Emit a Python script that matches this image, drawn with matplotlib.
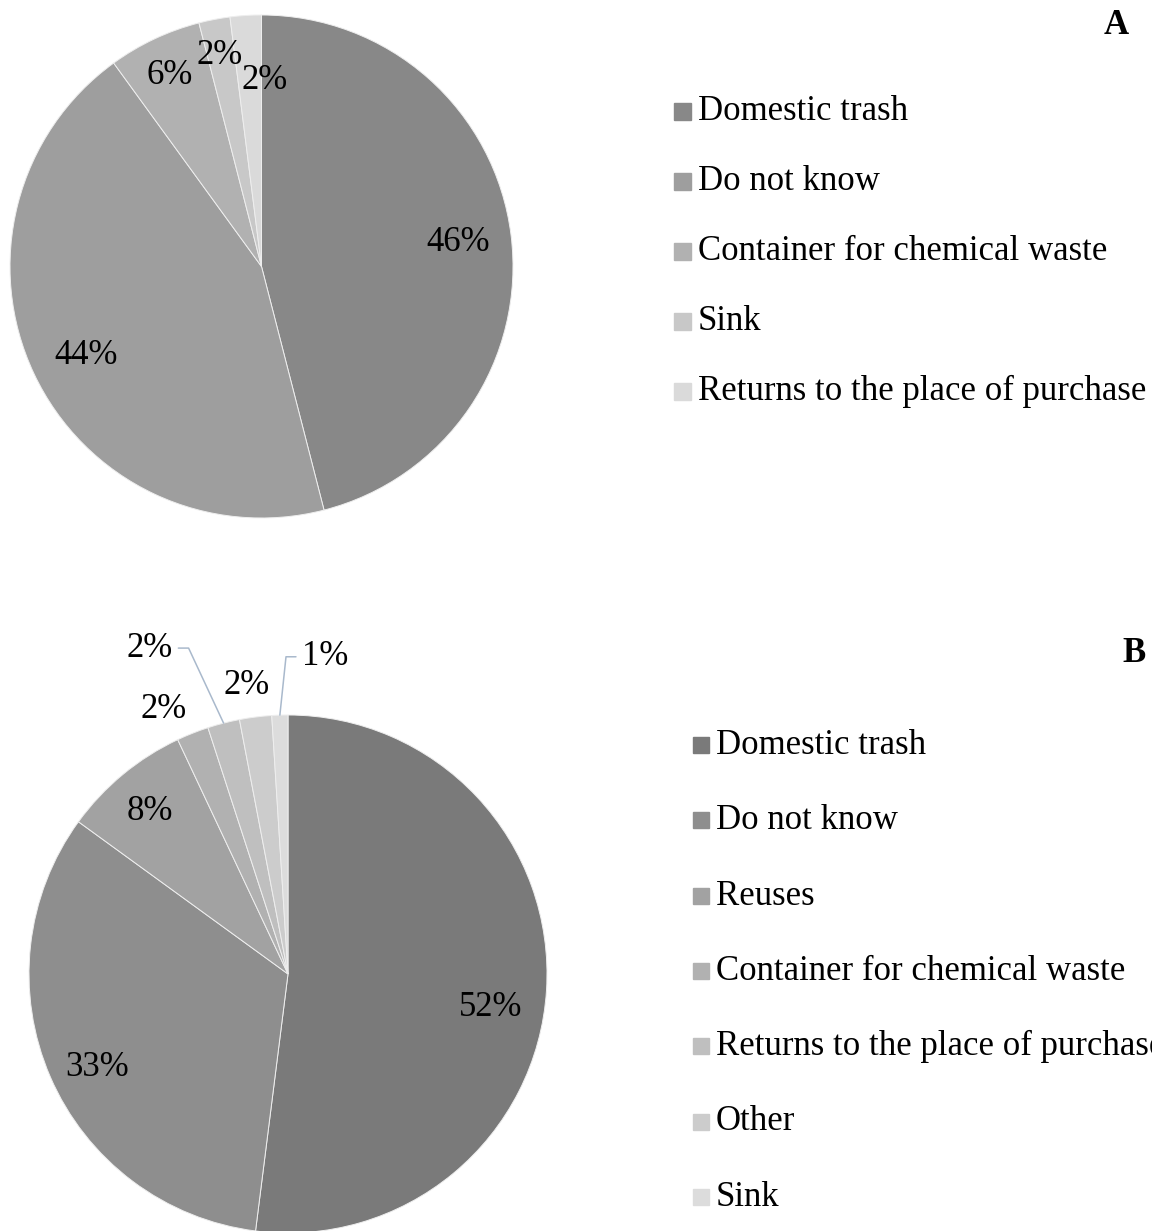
"""Two pie charts (A and B): how respondents dispose of products."""

import matplotlib
matplotlib.use("Agg")
import matplotlib.pyplot as plt
import matplotlib.transforms as mtransforms
import numpy as np
from matplotlib.patches import Rectangle

plt.rcParams.update({
    "font.family": ["Liberation Serif", "DejaVu Serif"],
    "font.size": 25,
})

# ---- data -------------------------------------------------------------
labels_a = ["Domestic trash", "Do not know", "Container for chemical waste",
            "Sink", "Returns to the place of purchase"]
values_a = [46, 44, 6, 2, 2]
colors_a = ["#888888", "#9e9e9e", "#b1b1b1", "#c8c8c8", "#dadada"]

labels_b = ["Domestic trash", "Do not know", "Reuses",
            "Container for chemical waste", "Returns to the place of purchase",
            "Other", "Sink"]
values_b = [52, 33, 8, 2, 2, 2, 1]
colors_b = ["#7a7a7a", "#8e8e8e", "#a2a2a2", "#b1b1b1", "#bfbfbf",
            "#cccccc", "#dcdcdc"]

# label placement: (radius, angular shift in degrees from wedge middle)
lab_a = [(0.79, 0.5), (0.775, 1.0), (0.854, 0.2), (0.865, 0.2), (0.752, -4.5)]
lab_b = [(0.79, -5.0), (0.816, 2.0), (0.831, 0.2), (1.14, 3.4),
         (1.367, 8.6), (1.135, 0.9), (1.233, -8.4)]
leader_b = {4: ("right", 115), 6: ("left", 84)}

W, H = 1152, 1231
fig = plt.figure(figsize=(W / 100, H / 100), dpi=100)


def pie_axes(cx, cy, r):
    return fig.add_axes([(cx - r) / W, (H - cy - r) / H, 2 * r / W, 2 * r / H])


def draw_pie(ax, values, colors, lab_pos, leaders=None):
    leaders = leaders or {}
    wedges, _ = ax.pie(values, colors=colors, startangle=90, counterclock=False,
                       radius=1.0,
                       wedgeprops={"edgecolor": "#eeeeee", "linewidth": 0.7})
    # Excel-like labels sit a touch lower than matplotlib's centring
    shifted = mtransforms.offset_copy(ax.transData, fig=fig, x=0, y=-3,
                                      units="dots")
    for i, (w, v) in enumerate(zip(wedges, values)):
        mid = (w.theta1 + w.theta2) / 2
        r, shift = lab_pos[i]
        ang = np.deg2rad(mid + shift)
        tx, ty = r * np.cos(ang), r * np.sin(ang)
        if i in leaders:
            side, angle_b = leaders[i]
            m = np.deg2rad(mid)
            ax.annotate(f"{v}%", xy=(np.cos(m), np.sin(m)), xytext=(tx, ty),
                        ha="center", va="center", fontsize=25,
                        annotation_clip=False,
                        arrowprops=dict(
                            arrowstyle="-", color="#a9b9cc", lw=1.1,
                            shrinkB=0,
                            relpos=(1, 0.5) if side == "right" else (0, 0.5),
                            connectionstyle=f"angle,angleA=0,angleB={angle_b},rad=0"))
        else:
            ax.text(tx, ty, f"{v}%", ha="center", va="center", fontsize=25,
                    transform=shifted)
    ax.set_xlim(-1, 1)
    ax.set_ylim(-1, 1)
    ax.axis("off")
    return wedges


ax_a = pie_axes(261.5, 266.5, 251.5)
draw_pie(ax_a, values_a, colors_a, lab_a)

ax_b = pie_axes(288, 974, 259)
draw_pie(ax_b, values_b, colors_b, lab_b, leader_b)

# ---- legends (pixel-space overlay) -----------------------------------
ov = fig.add_axes([0, 0, 1, 1], zorder=-1)
ov.set_xlim(0, W)
ov.set_ylim(H, 0)
ov.axis("off")


def draw_legend(labels, colors, x0, y0, dy, size):
    for i, (lab, col) in enumerate(zip(labels, colors)):
        yc = y0 + i * dy
        ov.add_patch(Rectangle((x0, yc - size / 2), size, size, color=col))
        ov.text(x0 + size + 7, yc + size / 2 + 1, lab, ha="left",
                va="baseline", fontsize=25, clip_on=False)


draw_legend(labels_a, colors_a, 674, 111, 70.0, 17)
draw_legend(labels_b, colors_b, 693, 745, 75.3, 16)

ov.text(1116, 25, "A", ha="center", va="center", fontsize=25,
        fontweight="bold")
ov.text(1134, 653, "B", ha="center", va="center", fontsize=25,
        fontweight="bold")

fig.savefig("out.png", dpi=100)
